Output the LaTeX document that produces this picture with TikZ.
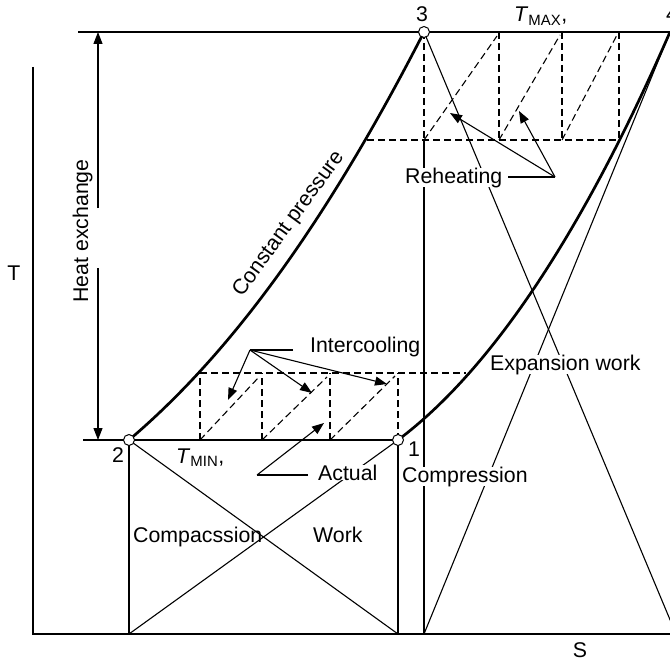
\documentclass[tikz,border=0pt]{standalone}
\usepackage{fontspec}
\setmainfont{Liberation Sans}
\usetikzlibrary{arrows.meta}
\begin{document}
\begin{tikzpicture}[x=1pt,y=-1pt,
  every node/.style={font=\fontsize{21.3}{25}\selectfont, inner sep=1pt},
  thinl/.style={line width=1.1pt},
  axisl/.style={line width=1.4pt},
  boldl/.style={line width=2.7pt},
  dashl/.style={line width=1.1pt, dash pattern=on 7pt off 4pt},
  ptc/.style={circle, draw, fill=white, line width=1pt, minimum size=11pt, inner sep=0pt},
  lbl/.style={fill=white, inner sep=1.5pt},
  arr/.style={line width=1.1pt, -{Triangle[length=12pt,width=9pt]}},
]
\useasboundingbox (0,0) rectangle (670,661);
% key coordinates
\coordinate (P1) at (398,440);
\coordinate (P2) at (129,440);
\coordinate (P3) at (424,32);
\coordinate (P4) at (670,32);
\coordinate (B1) at (398,634);
\coordinate (B2) at (129,634);
\coordinate (B3) at (424,634);
\coordinate (E4) at (676,634);
\coordinate (ax0) at (33,634);
\coordinate (axT) at (33,67);
\coordinate (axS) at (670,634);
\coordinate (tl) at (78,32);
\coordinate (tr) at (670,32);
\coordinate (bl) at (83,440);
% axes and level lines
\draw[axisl] (axT) -- (ax0) -- (axS);
\draw[axisl] (tl) -- (tr);
\draw[thinl] (bl) -- (P2);
\draw[boldl] (P2) -- (P1);
% heat exchange arrow
\coordinate (HA) at (98,32);
\coordinate (HB) at (98,440);
\coordinate (HG1) at (98,208);
\coordinate (HG2) at (98,268);
\draw[arr] (HG1) -- (HA);
\draw[arr] (HG2) -- (HB);
% constant pressure curves
\draw[boldl] (P2) .. controls (229,355) and (324,227) .. (P3);
\draw[boldl] (P1) .. controls (488,372.5) and (580,239) .. (P4);
% thin lines
\draw[thinl] (P2) -- (B2);
\draw[thinl] (P1) -- (B1);
\draw[thinl] (P2) -- (B1);
\draw[thinl] (B2) -- (P1);
\draw[thinl] (P3) -- (E4);
\draw[thinl] (B3) -- (P4);
% reheating dashed
\coordinate (R0) at (424,140);
\coordinate (R1) at (499,140);
\coordinate (R2) at (562,140);
\coordinate (R3) at (619,140);
\coordinate (RL0) at (367,140);
\coordinate (T1) at (499,32);
\coordinate (T2) at (562,32);
\coordinate (T3) at (619,32);
\coordinate (D1) at (497,36);
\coordinate (D2) at (560,35);
\coordinate (D3) at (617,35);
\draw[dashl] (RL0) -- (R3);
\draw[dashl] (P3) -- (R0);
\draw[dashl] (T1) -- (R1);
\draw[dashl] (T2) -- (R2);
\draw[dashl] (T3) -- (R3);
\draw[dashl] (R0) -- (D1);
\draw[dashl] (R1) -- (D2);
\draw[dashl] (R2) -- (D3);
\draw[thinl] (R0) -- (B3);
% intercooling dashed
\coordinate (I0) at (200,440);
\coordinate (I1) at (262,440);
\coordinate (I2) at (330,440);
\coordinate (U0) at (200,373);
\coordinate (U1) at (262,373);
\coordinate (U2) at (330,373);
\coordinate (U3) at (398,373);
\coordinate (Ue) at (466,373);
\coordinate (G1) at (259,377);
\coordinate (G2) at (327,377);
\coordinate (G3) at (395,376);
\draw[dashl] (U0) -- (Ue);
\draw[dashl] (I0) -- (U0);
\draw[dashl] (I1) -- (U1);
\draw[dashl] (I2) -- (U2);
\draw[dashl] (P1) -- (U3);
\draw[dashl] (I0) -- (G1);
\draw[dashl] (I1) -- (G2);
\draw[dashl] (I2) -- (G3);
% labels
\node[rotate=90, anchor=base] (heat) at (88,231) {Heat exchange};
\node[anchor=base] (Tlab) at (14,280) {T};
\node[anchor=base] (Slab) at (580,657) {S};
\node[anchor=base] (l3) at (422,22) {3};
\node[anchor=base] (l4) at (672,22) {4};
\node[anchor=base] (l2) at (118,462) {2};
\node[anchor=base] (l1) at (414,456) {1};
\node[anchor=base west, inner sep=0pt] (tmax) at (514,22) {\textit{T}\textsubscript{MAX},};
\node[anchor=base west, inner sep=0pt] (tmin) at (176,463) {\textit{T}\textsubscript{MIN},};
\node[rotate=54] (cp) at (289,224) {Constant pressure};
\node[lbl, anchor=base west, inner sep=0pt] (reh) at (405,183) {Reheating};
\node[anchor=base west, inner sep=0pt] (inter) at (310,352) {Intercooling};
\node[lbl, anchor=base west, inner sep=0pt] (act) at (318,480) {Actual};
\node[lbl, anchor=base west, inner sep=0pt] (comp) at (402,482) {Compression};
\node[lbl, anchor=base west, inner sep=0pt] (exp) at (490,370) {Expansion work};
\node[anchor=base west, inner sep=0pt] (cmpc) at (133,542) {Compacssion};
\node[anchor=base west, inner sep=0pt] (work) at (313,542) {Work};
% leader arrows
\coordinate (IH) at (250,350);
\coordinate (IL) at (293,350);
\coordinate (IA1) at (228,400);
\coordinate (IA2) at (312,393);
\coordinate (IA3) at (387,384);
\draw[thinl] (IL) -- (IH);
\draw[arr] (IH) -- (IA1);
\draw[arr] (IH) -- (IA2);
\draw[arr] (IH) -- (IA3);
\coordinate (RH) at (555,177);
\coordinate (RL) at (508,177);
\coordinate (RA1) at (450,113);
\coordinate (RA2) at (519,111);
\draw[thinl] (RL) -- (RH);
\draw[arr] (RH) -- (RA1);
\draw[arr] (RH) -- (RA2);
\coordinate (AH) at (257,475);
\coordinate (AL) at (308,475);
\coordinate (AA) at (324,423);
\draw[thinl] (AL) -- (AH);
\draw[arr] (AH) -- (AA);
% state points
\node[ptc] (n1) at (P1) {};
\node[ptc] (n2) at (P2) {};
\node[ptc] (n3) at (P3) {};
\end{tikzpicture}
\end{document}
